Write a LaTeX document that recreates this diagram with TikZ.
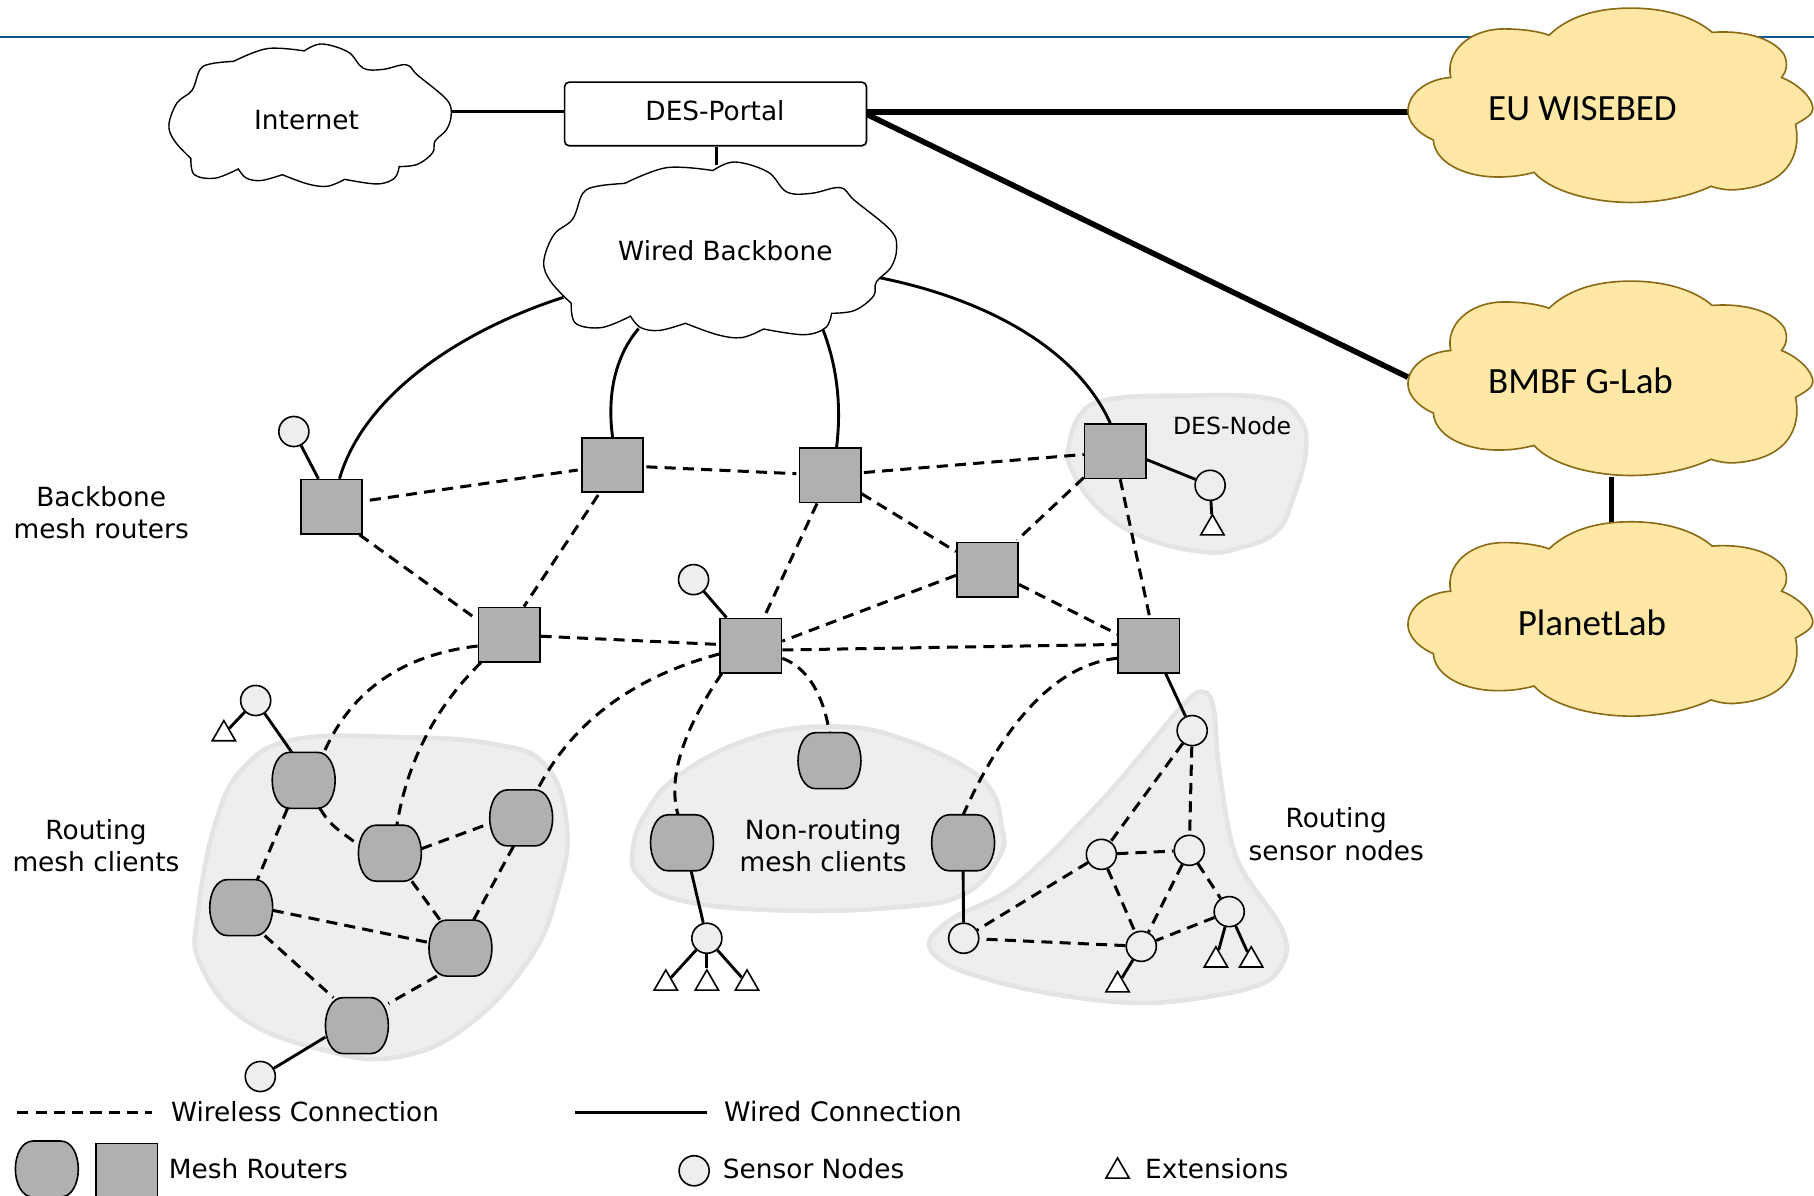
\documentclass[tikz,border=0pt]{standalone}
\usepackage{fontspec}
\setmainfont{DejaVu Sans}
\newfontfamily\carlitofont{Carlito}
\usetikzlibrary{shapes.geometric}
\definecolor{headblue}{HTML}{14548C}
\definecolor{blobfill}{HTML}{EEEEEE}
\definecolor{blobline}{HTML}{E4E4E4}
\definecolor{routerfill}{HTML}{B0B0B0}
\definecolor{cloudyellow}{HTML}{FFE8A6}
\definecolor{cloudbrown}{HTML}{8A6A14}
\newdimen\barrelx
\newdimen\barrely
\makeatletter
\pgfdeclareshape{barrelnode}{
  \inheritsavedanchors[from=rectangle]
  \inheritanchorborder[from=rectangle]
  \inheritanchor[from=rectangle]{center}
  \inheritanchor[from=rectangle]{north}
  \inheritanchor[from=rectangle]{south}
  \inheritanchor[from=rectangle]{east}
  \inheritanchor[from=rectangle]{west}
  \backgroundpath{
    \northeast \barrelx=\pgf@x \barrely=\pgf@y
    \pgfpathmoveto{\pgfqpoint{-.44\barrelx}{\barrely}}
    \pgfpathlineto{\pgfqpoint{.44\barrelx}{\barrely}}
    \pgfpathcurveto{\pgfqpoint{.8\barrelx}{\barrely}}{\pgfqpoint{\barrelx}{.5\barrely}}{\pgfqpoint{\barrelx}{0pt}}
    \pgfpathcurveto{\pgfqpoint{\barrelx}{-.5\barrely}}{\pgfqpoint{.8\barrelx}{-\barrely}}{\pgfqpoint{.44\barrelx}{-\barrely}}
    \pgfpathlineto{\pgfqpoint{-.44\barrelx}{-\barrely}}
    \pgfpathcurveto{\pgfqpoint{-.8\barrelx}{-\barrely}}{\pgfqpoint{-\barrelx}{-.5\barrely}}{\pgfqpoint{-\barrelx}{0pt}}
    \pgfpathcurveto{\pgfqpoint{-\barrelx}{.5\barrely}}{\pgfqpoint{-.8\barrelx}{\barrely}}{\pgfqpoint{-.44\barrelx}{\barrely}}
    \pgfpathclose
  }
}
\makeatother
\newcommand\netcloud[1]{\path[#1] (202,53)
 -- plot[smooth,tension=.6] coordinates{(202,53)(231,42)(263,44)}
 -- plot[smooth,tension=.6] coordinates{(263,44)(278,38)(301,45)(314,59)(331,60)(351,56)(361,65)(386,86)(390,99)(386,112)(376,122)(374,132)(361,142)(345,144)}
 -- plot[smooth,tension=.6] coordinates{(345,144)(341,154)(326,159)(298,155)}
 -- plot[smooth,tension=.6] coordinates{(298,155)(283,161)(266,159)(244,151)}
 -- plot[smooth,tension=.6] coordinates{(244,151)(226,156)(213,154)(206,146)}
 -- plot[smooth,tension=.6] coordinates{(206,146)(186,154)(168,151)(165,137)}
 -- plot[smooth,tension=.6] coordinates{(165,137)(151,122)(146,108)(153,89)(166,78)(173,60)(183,55)(202,53)}
 -- cycle;}
\newcommand\fluffycloud[1]{\path[#1] (1339,30.4)
 .. controls (1358,12) and (1385,7) .. (1410,7) .. controls (1440,7) and (1465,15) .. (1480,28)
 .. controls (1505,26) and (1532,32) .. (1542,47) .. controls (1546,55) and (1544,62) .. (1540,67)
 .. controls (1555,73) and (1567,85) .. (1567,94) .. controls (1567,99) and (1560,103) .. (1552,107.5)
 .. controls (1556,125) and (1553,160) .. (1500,164) .. controls (1492,164.5) and (1485,163) .. (1479,161)
 .. controls (1460,170) and (1435,175) .. (1410,175) .. controls (1375,175) and (1340,165) .. (1326,149)
 .. controls (1315,152) and (1305,153) .. (1295,153) .. controls (1265,153) and (1240,140) .. (1239,121)
 .. controls (1225,115) and (1217,105) .. (1217,96) .. controls (1217,80) and (1235,68) .. (1254,67)
 .. controls (1249,45) and (1270,25) .. (1300,25) .. controls (1315,25) and (1330,27) .. (1339,30.4)
 -- cycle;}
\tikzset{
 blob/.style={fill=blobfill,draw=blobline,line width=2pt},
 wired/.style={line width=1.25pt,draw=black},
 heavy/.style={line width=2.4pt,draw=black},
 wireless/.style={line width=1.3pt,draw=black,dash pattern=on 4.8pt off 3.1pt},
 router/.style={draw=black,fill=routerfill,line width=.7pt,rectangle,minimum width=26.5pt,minimum height=23.5pt,inner sep=0pt},
 client/.style={draw=black,fill=routerfill,line width=.7pt,barrelnode,minimum width=26.5pt,minimum height=23.5pt,inner sep=0pt},
 sensor/.style={draw=black,fill=blobfill,line width=.7pt,circle,minimum size=13pt,inner sep=0pt},
 ext/.style={draw=black,fill=white,line width=.7pt,regular polygon,regular polygon sides=3,minimum size=11.6pt,inner sep=0pt},
 label/.style={font=\fontsize{11.4pt}{14pt}\selectfont,align=center,inner sep=0pt},
 legendtext/.style={label,anchor=west},
 biglabel/.style={font=\fontsize{16pt}{19pt}\selectfont\carlitofont,inner sep=0pt},
}
\begin{document}
\begin{tikzpicture}[x=0.5pt,y=-0.5pt]
\useasboundingbox (0,0) rectangle (1568,1033);
\coordinate (headl) at (0,32);
\coordinate (headr) at (1568,32);
\draw[headblue,line width=1.2pt] (headl) -- (headr);
% regions
\path[blob] plot[smooth cycle,tension=.7] coordinates{(1020,342)(1095,344)(1122,360)(1129,388)(1118,430)(1103,460)(1070,474)(1040,477)(990,465)(950,440)(926,405)(924,385)(935,357)(960,345)};
\path[blob] plot[smooth cycle,tension=.7] coordinates{(256,639)(341,637)(426,643)(472,662)(490,715)(482,771)(457,830)(401,889)(341,914)(281,908)(211,881)(173,833)(171,790)(186,712)(211,663)};
\path[blob] plot[smooth cycle,tension=.7] coordinates{(717,628)(778,638)(848,673)(866,715)(863,742)(833,773)(778,784)(677,787)(587,778)(552,757)(547,735)(557,705)(587,670)(650,638)};
\path[blob] plot[smooth cycle,tension=.55] coordinates{(1040,598)(1049,612)(1054,666)(1069,742)(1107,801)(1110,830)(1084,853)(994,867)(903,858)(828,838)(803,817)(823,794)(878,765)(954,690)(1022,610)};
% nodes
\node[draw=black,fill=white,line width=.7pt,rounded corners=2pt,minimum width=130.5pt,minimum height=27.5pt,inner sep=0pt] (portal) at (618.5,98.5) {};
\node[router] (R1) at (286.5,438) {};
\node[router] (R2) at (529.5,402) {};
\node[router] (R3) at (717.5,411) {};
\node[router] (R4) at (964,390) {};
\node[router] (R5) at (853.5,492.5) {};
\node[router] (R6) at (440,548.5) {};
\node[router] (R7) at (649,558) {};
\node[router] (R8) at (993,558) {};
\node[client] (C1) at (262.5,674.5) {};
\node[client] (C2) at (337,737.5) {};
\node[client] (C3) at (450.5,707) {};
\node[client] (C4) at (208.5,784.5) {};
\node[client] (C5) at (398,819.5) {};
\node[client] (C6) at (308.5,886.5) {};
\node[client] (C7) at (589.5,728.5) {};
\node[client] (C8) at (717,657.5) {};
\node[client] (C9) at (832.5,728.5) {};
\node[sensor] (S1) at (254,373) {};
\node[sensor] (S2) at (599.5,501) {};
\node[sensor] (S3) at (221,605.5) {};
\node[sensor] (S4) at (225,930.5) {};
\node[sensor] (S5) at (611,811) {};
\node[sensor] (S6) at (1046,419.5) {};
\node[sensor] (S7) at (1030.5,631.5) {};
\node[sensor] (S8) at (952,738.5) {};
\node[sensor] (S9) at (1028,735) {};
\node[sensor] (S10) at (1062.5,788) {};
\node[sensor] (S11) at (986.5,818) {};
\node[sensor] (S12) at (833,811) {};
\node[ext] (T1) at (193.5,634.5) {};
\node[ext] (T2) at (575.5,850) {};
\node[ext] (T3) at (611,850) {};
\node[ext] (T4) at (645.7,850) {};
\node[ext] (T5) at (1048,456.5) {};
\node[ext] (T6) at (966,851.5) {};
\node[ext] (T7) at (1051,830) {};
\node[ext] (T8) at (1081.5,830) {};
% cloud connection points
\coordinate (inetE) at (390,96);
\coordinate (wbN) at (619,143);
\coordinate (wb1) at (487,257);
\coordinate (wb2) at (552,284);
\coordinate (wb3) at (711,284);
\coordinate (wb4) at (760,240);
\coordinate (euW) at (1217,97);
\coordinate (glabW) at (1217,326);
\coordinate (glabS) at (1393,412);
\coordinate (plabN) at (1393,451);
% wired
\draw[wired] (inetE) -- (portal.west |- inetE);
\draw[wired] (portal.south -| wbN) -- (wbN);
\draw[heavy] (portal.east |- euW) -- (euW);
\draw[heavy] (portal.east |- 0,99) -- (glabW);
\draw[heavy] (glabS) -- (plabN);
\draw[wired] (wb1) .. controls (400,285) and (315,340) .. (R1.74);
\draw[wired] (wb2) .. controls (530,310) and (525,345) .. (R2.north);
\draw[wired] (wb3) .. controls (725,320) and (727,355) .. (R3.77);
\draw[wired] (wb4) .. controls (850,258) and (930,300) .. (R4.100);
\draw[wired] (S1) -- (R1.115);
\draw[wired] (S2) -- (R7.131);
\draw[wired] (S3) -- (C1.113);
\draw[wired] (S3) -- (T1);
\draw[wired] (C6.200) -- (S4);
\draw[wired] (C7.-72) -- (S5);
\draw[wired] (C9.south) -- (S12);
\draw[wired] (R8.-59) -- (S7);
\draw[wired] (R4.-15) -- (S6);
\draw[wired] (S6) -- (T5);
\draw[wired] (S5) -- (T2);
\draw[wired] (S5) -- (T3);
\draw[wired] (S5) -- (T4);
\draw[wired] (S11) -- (T6);
\draw[wired] (S10) -- (T7);
\draw[wired] (S10) -- (T8);
% wireless
\draw[wireless,shorten >=1.5pt,shorten <=3pt] (R1.10) -- (R2.-172);
\draw[wireless,shorten >=1pt,shorten <=1pt] (R2.-3) -- (R3.177);
\draw[wireless,shorten <=1pt] (R3.5) -- (R4.186);
\draw[wireless] (R1.-45) -- (R6.155);
\draw[wireless,shorten <=1pt] (R2.-115) -- (R6.62);
\draw[wireless] (R3.-30) -- (R5.150);
\draw[wireless] (R3.-115) -- (R7.65);
\draw[wireless,shorten >=1pt] (R4.-140) -- (R5.45);
\draw[wireless] (R4.-80) -- (R8.88);
\draw[wireless] (R5.190) -- (R7.8);
\draw[wireless] (R5.-25) -- (R8.160);
\draw[wireless] (R6.-3) -- (R7.178);
\draw[wireless] (R7.-8) -- (R8.178);
\draw[wireless] (R6.200) .. controls (348,566) and (303.7,596.7) .. (C1.54);
\draw[wireless] (R6.225) .. controls (376.3,611.3) and (352,658.3) .. (C2.76);
\draw[wireless] (R7.195) .. controls (546.7,585.3) and (494,625) .. (C3.60);
\draw[wireless] (R7.224) .. controls (590,631.7) and (577,673) .. (C7.98);
\draw[wireless] (R7.-22) .. controls (697,576.7) and (711.3,598.7) .. (C8.north);
\draw[wireless] (R8.202) .. controls (913.3,574.3) and (868.7,623.7) .. (C9.north);
\draw[wireless] (C1.-60) .. controls (285,712) .. (C2.165);
\draw[wireless] (C1.-120) -- (C4.60);
\draw[wireless] (C2.8) -- (C3.190);
\draw[wireless] (C2.-52) -- (C5.126);
\draw[wireless] (C3.-105) -- (C5.65);
\draw[wireless] (C4.-5) -- (C5.170);
\draw[wireless] (C4.-50) -- (C6.130);
\draw[wireless] (C5.-130) -- (C6.35);
\draw[wireless] (S7) -- (S8);
\draw[wireless] (S7) -- (S9);
\draw[wireless] (S8) -- (S9);
\draw[wireless] (S8) -- (S11);
\draw[wireless] (S8) -- (S12);
\draw[wireless] (S9) -- (S11);
\draw[wireless] (S9) -- (S10);
\draw[wireless] (S10) -- (S11);
\draw[wireless] (S11) -- (S12);
% clouds
\netcloud{draw=black,fill=white,line width=.6pt}
\begin{scope}[shift={(470,140)},xscale=1.25,yscale=1.234,shift={(-146,-38)}]
\netcloud{draw=black,fill=white,line width=.6pt}
\end{scope}
\fluffycloud{draw=cloudbrown,fill=cloudyellow,line width=.7pt}
\begin{scope}[yshift=-118pt]
\fluffycloud{draw=cloudbrown,fill=cloudyellow,line width=.7pt}
\end{scope}
\begin{scope}[yshift=-222pt]
\fluffycloud{draw=cloudbrown,fill=cloudyellow,line width=.7pt}
\end{scope}
% labels
\node[label] (inetL) at (265,104) {Internet};
\node[label] (portalL) at (618,96) {DES-Portal};
\node[label] (wbL) at (627,217) {Wired Backbone};
\node[label] (bbL) at (87.5,443) {Backbone\\mesh routers};
\node[label] (rmL) at (83,731) {Routing\\mesh clients};
\node[label] (nrL) at (711.5,731) {Non-routing\\mesh clients};
\node[label] (rsL) at (1155,721) {Routing\\sensor nodes};
\node[label,font=\fontsize{10.2pt}{12pt}\selectfont] (dnL) at (1065,368) {DES-Node};
\node[biglabel,anchor=west] (euL) at (1286,94) {EU WISEBED};
\node[biglabel,anchor=west] (bmL) at (1286,329) {BMBF G-Lab};
\node[biglabel] (plL) at (1376,538) {PlanetLab};
% legend
\coordinate (lg1a) at (15,962);
\coordinate (lg1b) at (131,962);
\coordinate (lg2a) at (497,962);
\coordinate (lg2b) at (611,962);
\draw[wireless] (lg1a) -- (lg1b);
\draw[wired] (lg2a) -- (lg2b);
\node[legendtext] (lgw) at (147.5,960.5) {Wireless Connection};
\node[legendtext,font=\fontsize{11.6pt}{14pt}\selectfont] (lgd) at (625.5,960.5) {Wired Connection};
\node[client] (lgC) at (40.5,1010.5) {};
\node[router] (lgR) at (109.5,1012) {};
\node[legendtext] (lgm) at (145.5,1010.5) {Mesh Routers};
\node[sensor] (lgS) at (600,1012) {};
\node[legendtext] (lgs) at (624.5,1010.5) {Sensor Nodes};
\node[ext] (lgT) at (966,1012.5) {};
\node[legendtext] (lge) at (989.5,1010.5) {Extensions};
\end{tikzpicture}
\end{document}
